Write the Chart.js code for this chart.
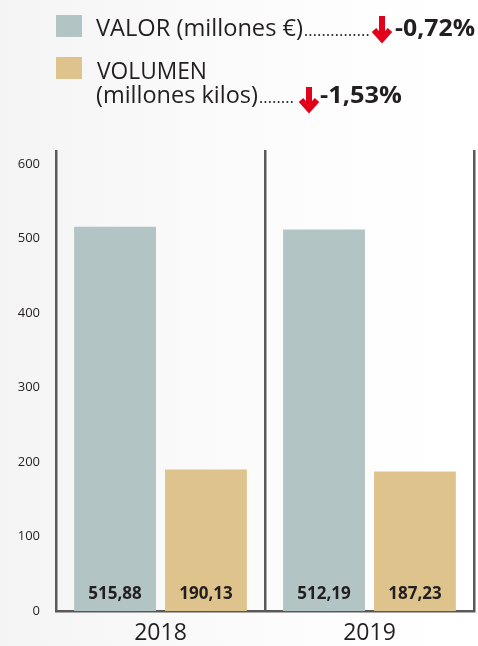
<!DOCTYPE html>
<html lang="es">
<head>
<meta charset="utf-8">
<title>Valor y volumen 2018-2019</title>
<script src="https://cdn.jsdelivr.net/npm/chart.js@4/dist/chart.umd.min.js"></script>
<style>
  html, body { margin: 0; padding: 0; }
  body {
    width: 478px; height: 646px; overflow: hidden;
    background: linear-gradient(to right, #f4f4f4 0%, #f9f9f9 35%, #fdfdfd 70%, #ffffff 100%);
  }
</style>
</head>
<body>
<canvas id="chart" width="478" height="646"></canvas>
<script>
// datos
const years = ['2018', '2019'];
const valor = [515.88, 512.19];     // millones €
const volumen = [190.13, 187.23];   // millones kilos
const yTicks = [0, 100, 200, 300, 400, 500, 600];
const legendLabels = [['VALOR (millones €)'], ['VOLUMEN', '(millones kilos)']];
const variations = ['-0,72%', '-1,53%'];

const GRIS = '#b2c4c3';
const ARENA = '#dfc38c';
const TEXTO = '#231f20';
const LINEA = '#595959';
const ROJO = '#e2001a';
const FUENTE = '"Open Sans", "Noto Sans", sans-serif';

const fmt = v => v.toFixed(2).replace('.', ',');

// texto ajustado a un ancho dado
function fitText(ctx, text, x, y, w) {
    const m = ctx.measureText(text).width;
    ctx.save();
    ctx.translate(x, y);
    ctx.scale(w / m, 1);
    ctx.fillText(text, 0, 0);
    ctx.restore();
}

function drawArrow(ctx, cx, top, bottom) {
    ctx.save();
    ctx.strokeStyle = ROJO;
    ctx.lineWidth = 6;
    ctx.lineJoin = 'miter';
    ctx.beginPath();
    ctx.moveTo(cx, top);
    ctx.lineTo(cx, bottom - 4);
    ctx.stroke();
    ctx.beginPath();
    ctx.moveTo(cx - 8, bottom - 12);
    ctx.lineTo(cx, bottom - 3);
    ctx.lineTo(cx + 8, bottom - 12);
    ctx.stroke();
    ctx.restore();
}

function drawDots(ctx, x0, x1, y) {
    ctx.save();
    ctx.fillStyle = TEXTO;
    for (let x = x0; x <= x1; x += 4.4) {
        ctx.beginPath();
        ctx.arc(x, y, 1, 0, Math.PI * 2);
        ctx.fill();
    }
    ctx.restore();
}

// leyenda con variaciones
const leyenda = {
    id: 'leyenda',
    afterDraw(chart) {
        const ctx = chart.ctx;
        ctx.save();
        ctx.fillStyle = GRIS;
        ctx.fillRect(56, 15, 26, 22);
        ctx.fillStyle = ARENA;
        ctx.fillRect(56, 57, 26, 22);

        ctx.fillStyle = TEXTO;
        ctx.textBaseline = 'alphabetic';
        ctx.textAlign = 'left';
        ctx.font = '400 24px ' + FUENTE;
        fitText(ctx, legendLabels[0][0], 96, 36, 207);
        fitText(ctx, legendLabels[1][0], 97, 79, 110);
        fitText(ctx, legendLabels[1][1], 96, 103, 162);

        drawDots(ctx, 306, 368, 35);
        drawDots(ctx, 261, 296, 102);

        drawArrow(ctx, 382, 16, 42);
        drawArrow(ctx, 309, 87, 112);

        ctx.fillStyle = TEXTO;
        ctx.font = '700 24px ' + FUENTE;
        fitText(ctx, variations[0], 395, 36, 80);
        fitText(ctx, variations[1], 320, 103, 82);
        ctx.restore();
    }
};

// valores dentro de las barras
const valores = {
    id: 'valores',
    afterDatasetsDraw(chart) {
        const ctx = chart.ctx;
        const y0 = chart.scales.y.getPixelForValue(0);
        ctx.save();
        ctx.fillStyle = TEXTO;
        ctx.font = '700 17px ' + FUENTE;
        ctx.textAlign = 'center';
        ctx.textBaseline = 'middle';
        chart.data.datasets.forEach((ds, i) => {
            chart.getDatasetMeta(i).data.forEach((bar, j) => {
                ctx.fillText(fmt(ds.data[j]), bar.x, y0 - 17);
            });
        });
        ctx.restore();
    }
};

new Chart(document.getElementById('chart'), {
    type: 'bar',
    data: {
        labels: years,
        datasets: [
            { label: 'VALOR (millones €)', data: valor, backgroundColor: GRIS },
            { label: 'VOLUMEN (millones kilos)', data: volumen, backgroundColor: ARENA }
        ]
    },
    options: {
        responsive: false,
        animation: false,
        layout: { padding: { top: 150, right: 4, left: 0, bottom: 0 } },
        datasets: {
            bar: { categoryPercentage: 0.87, barPercentage: 0.9 }
        },
        plugins: {
            legend: { display: false },
            tooltip: { enabled: false }
        },
        scales: {
            x: {
                z: 1,
                grid: { display: true, offset: true, color: LINEA, lineWidth: 2.5, drawTicks: false },
                border: { display: true, color: LINEA, width: 2.5 },
                ticks: { color: TEXTO, font: { family: FUENTE, size: 23 }, padding: 9 },
                afterFit: s => { s.height = 35; }
            },
            y: {
                min: 0,
                max: 619,
                afterBuildTicks: s => { s.ticks = yTicks.map(v => ({ value: v })); },
                grid: { display: false },
                border: { display: false },
                ticks: { color: TEXTO, font: { family: FUENTE, size: 13 }, padding: 8 },
                afterFit: s => { s.width = 56; }
            }
        }
    },
    plugins: [leyenda, valores]
});
</script>
</body>
</html>
